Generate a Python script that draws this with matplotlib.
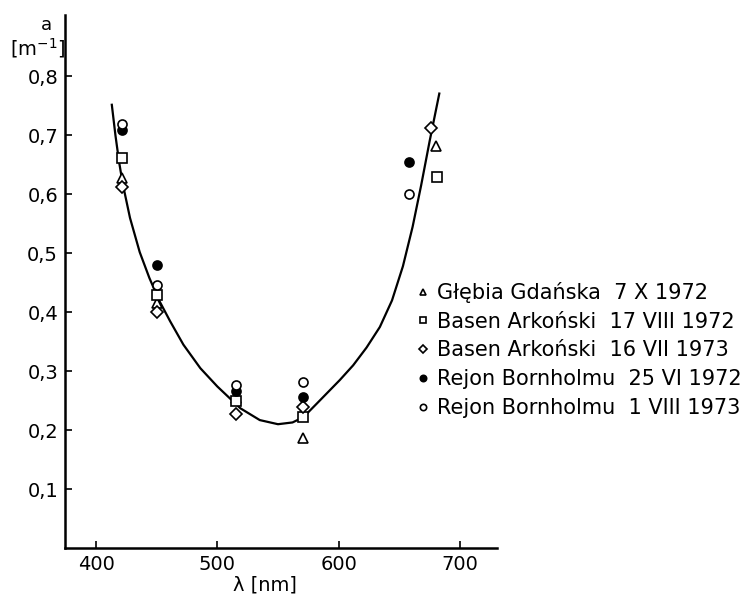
import matplotlib.pyplot as plt

# wavelengths and absorption values
wl_tri = [421, 450, 515, 571, 680]
a_tri = [0.627, 0.415, 0.255, 0.186, 0.682]
wl_sq = [421, 450, 515, 571, 681]
a_sq = [0.661, 0.43, 0.249, 0.223, 0.629]
wl_dia = [421, 450, 515, 571, 676]
a_dia = [0.612, 0.40, 0.227, 0.240, 0.713]
wl_full = [421, 450, 515, 571, 658]
a_full = [0.709, 0.48, 0.266, 0.257, 0.655]
wl_open = [421, 450, 515, 571, 658]
a_open = [0.72, 0.446, 0.276, 0.281, 0.600]

# fitted curve
curve_wl = [413, 416, 419, 422, 428, 436, 444, 452, 461, 472, 486, 500, 519, 535,
            550, 562, 571, 582, 601, 612, 623, 634, 644, 653, 661, 668, 675, 683]
curve_a = [0.752, 0.700, 0.655, 0.618, 0.560, 0.502, 0.458, 0.420, 0.385, 0.345,
           0.305, 0.274, 0.237, 0.217, 0.210, 0.213, 0.222, 0.245, 0.285, 0.310,
           0.340, 0.375, 0.420, 0.478, 0.545, 0.615, 0.690, 0.771]

labels = ["Głębia Gdańska  7 X 1972",
          "Basen Arkoński  17 VIII 1972",
          "Basen Arkoński  16 VII 1973",
          "Rejon Bornholmu  25 VI 1972",
          "Rejon Bornholmu  1 VIII 1973"]

xticks = [400, 500, 600, 700]
yticks = [0.1, 0.2, 0.3, 0.4, 0.5, 0.6, 0.7, 0.8]
ytick_labels = ["0,1", "0,2", "0,3", "0,4", "0,5", "0,6", "0,7", "0,8"]

fig = plt.figure(figsize=(7.54, 6), dpi=100)
ax = fig.add_axes([0.0862, 0.0867, 0.573, 0.888])

ax.plot(curve_wl, curve_a, color="black", lw=1.6, zorder=2)

mk = dict(color="black", markersize=6.5, markeredgewidth=1.2, linestyle="none", zorder=3)
h1, = ax.plot(wl_tri, a_tri, marker="^", markerfacecolor="white", **mk)
h2, = ax.plot(wl_sq, a_sq, marker="s", markerfacecolor="white", **mk)
h3, = ax.plot(wl_dia, a_dia, marker="D", markerfacecolor="white", **mk)
h4, = ax.plot(wl_full, a_full, marker="o", markerfacecolor="black", **mk)
h5, = ax.plot(wl_open, a_open, marker="o", markerfacecolor="white", **mk)

ax.set_xlim(374.4, 730.6)
ax.set_ylim(0, 0.904)
ax.spines["top"].set_visible(False)
ax.spines["right"].set_visible(False)
ax.spines["left"].set_linewidth(1.8)
ax.spines["bottom"].set_linewidth(1.8)

ax.set_xticks(xticks)
ax.set_yticks(yticks)
ax.set_yticklabels(ytick_labels)
ax.tick_params(direction="in", length=5, width=1.2, labelsize=14, pad=5)

fig.text(0.062, 0.958, "a", fontsize=13, ha="center", va="center")
fig.text(0.05, 0.92, "[m$^{-1}$]", fontsize=14, ha="center", va="center")
fig.text(0.352, 0.025, "λ [nm]", fontsize=14, ha="center", va="center")

leg = fig.legend([h1, h2, h3, h4, h5], labels, loc="upper left",
                 bbox_to_anchor=(0.556, 0.53), frameon=False, fontsize=15,
                 handlelength=0.4, handletextpad=0.45, labelspacing=0.42,
                 borderaxespad=0, borderpad=0, markerscale=0.7)

fig.savefig("out.png", dpi=100)
